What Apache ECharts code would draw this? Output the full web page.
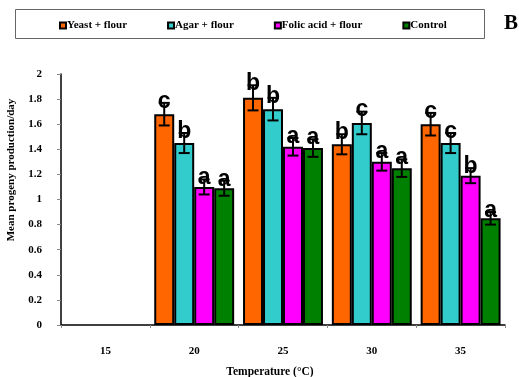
<!DOCTYPE html>
<html>
<head>
<meta charset="utf-8">
<script src="https://cdn.jsdelivr.net/npm/echarts@6/dist/echarts.min.js"></script>
<style>
  html, body { margin: 0; padding: 0; background: #fff; }
  #chart { width: 519px; height: 377px; }
</style>
</head>
<body>
<div id="chart"></div>
<script>
// Temperature groups on the x axis
const temperatures = ['15', '20', '25', '30', '35'];

// Series names
const seriesNames = ['Yeast + flour', 'Agar + flour', 'Folic acid + flour', 'Control'];

// Mean progeny production per day (no data at 15 °C)
const yeastValues   = [null, 1.68, 1.81, 1.44, 1.60];
const agarValues    = [null, 1.45, 1.72, 1.61, 1.45];
const folicValues   = [null, 1.10, 1.42, 1.30, 1.19];
const controlValues = [null, 1.09, 1.41, 1.25, 0.85];

// Standard errors
const yeastErr   = [null, 0.09, 0.10, 0.08, 0.09];
const agarErr    = [null, 0.08, 0.09, 0.09, 0.08];
const folicErr   = [null, 0.06, 0.07, 0.07, 0.06];
const controlErr = [null, 0.06, 0.07, 0.07, 0.05];

// Significance letters
const yeastLetters   = ['', 'c', 'b', 'b', 'c'];
const agarLetters    = ['', 'b', 'b', 'c', 'c'];
const folicLetters   = ['', 'a', 'a', 'a', 'b'];
const controlLetters = ['', 'a', 'a', 'a', 'a'];

// Y axis tick labels
const yTicks = ['0', '0.2', '0.4', '0.6', '0.8', '1', '1.2', '1.4', '1.6', '1.8', '2'];

const colors = ['#FF6600', '#33CCCC', '#FF00FF', '#008000'];
const allValues = [yeastValues, agarValues, folicValues, controlValues];
const allErrors = [yeastErr, agarErr, folicErr, controlErr];
const allLetters = [yeastLetters, agarLetters, folicLetters, controlLetters];

const serif = '"Liberation Serif", "Times New Roman", serif';
const sans = '"Liberation Sans", Arial, sans-serif';
const CATEGORY_GAP = 0.10;
const N = seriesNames.length;

const chart = echarts.init(document.getElementById('chart'), null, { renderer: 'canvas' });

const barSeries = seriesNames.map((name, i) => ({
  name: name,
  type: 'bar',
  data: allValues[i],
  barGap: '0%',
  barCategoryGap: (CATEGORY_GAP * 100) + '%',
  itemStyle: { color: colors[i], borderColor: '#000', borderWidth: 2 },
  emphasis: { disabled: true },
  z: 2
}));

// Error bars and significance letters over each bar
const errorSeries = seriesNames.map((name, i) => {
  const pts = [];
  allValues[i].forEach((v, k) => {
    if (v != null) pts.push([k, v, allErrors[i][k]]);
  });
  return {
    type: 'custom',
    name: name + ' error',
    z: 5,
    dimensions: ['x', 'y', 'err'],
    encode: { x: 0, y: 1 },
    data: pts,
    renderItem: function (params, api) {
      const k = api.value(0);
      const v = api.value(1);
      const e = api.value(2);
      const band = api.size([1, 0])[0];
      const barW = band * (1 - CATEGORY_GAP) / N;
      const c = api.coord([k, v]);
      const x = c[0] + (i - (N - 1) / 2) * barW;
      const hi = api.coord([k, v + e])[1];
      const lo = api.coord([k, v - e])[1];
      const cap = 5.5;
      const st = { stroke: '#000', lineWidth: 2 };
      return {
        type: 'group',
        children: [
          { type: 'line', shape: { x1: x, y1: hi, x2: x, y2: lo }, style: st },
          { type: 'line', shape: { x1: x - cap, y1: hi, x2: x + cap, y2: hi }, style: st },
          { type: 'line', shape: { x1: x - cap, y1: lo, x2: x + cap, y2: lo }, style: st },
          {
            type: 'text',
            style: {
              text: allLetters[i][k],
              x: x,
              y: hi + 10,
              align: 'center',
              verticalAlign: 'bottom',
              font: 'bold 23px ' + sans,
              fill: '#000'
            }
          }
        ]
      };
    }
  };
});

const option = {
  animation: false,
  color: colors,
  grid: { left: 61, right: 14, top: 74, bottom: 52, outerBoundsMode: 'none', containLabel: false },
  legend: {
    data: seriesNames,
    left: 54,
    top: 15,
    itemWidth: 6,
    itemHeight: 6,
    itemGap: 40,
    icon: 'rect',
    textStyle: { fontFamily: serif, fontWeight: 'bold', fontSize: 11, color: '#000', padding: [0, 0, 0, -4] }
  },
  graphic: [
    {
      type: 'rect',
      shape: { x: 15.5, y: 9.5, width: 469, height: 29 },
      style: { fill: 'none', stroke: '#666', lineWidth: 1 },
      z: -1
    },
    {
      type: 'text',
      left: 504,
      top: 13,
      style: { text: 'B', font: 'bold 21px ' + serif, fill: '#000' }
    },
    {
      type: 'text',
      x: 11,
      y: 170,
      rotation: Math.PI / 2,
      style: {
        text: 'Mean progeny production/day',
        font: 'bold 11px ' + serif,
        fill: '#000',
        align: 'center',
        verticalAlign: 'middle'
      }
    },
    {
      type: 'text',
      x: 270,
      y: 372,
      style: {
        text: 'Temperature (°C)',
        font: 'bold 11.5px ' + serif,
        fill: '#000',
        align: 'center',
        verticalAlign: 'middle'
      }
    }
  ],
  xAxis: {
    type: 'category',
    data: temperatures,
    axisLine: { lineStyle: { color: '#000', width: 1.5 } },
    axisTick: { show: true, alignWithLabel: false, length: 3, lineStyle: { color: '#888' } },
    axisLabel: { fontFamily: serif, fontWeight: 'bold', fontSize: 11, color: '#000', margin: 21 }
  },
  yAxis: {
    type: 'value',
    min: 0,
    max: 2,
    interval: 0.2,
    axisLine: { show: true, lineStyle: { color: '#000', width: 1.5 } },
    axisTick: { show: true, length: 4, lineStyle: { color: '#888' } },
    splitLine: { show: false },
    axisLabel: {
      fontFamily: serif, fontWeight: 'bold', fontSize: 11, color: '#000', margin: 19,
      formatter: function (v) {
        const idx = Math.round(v / 0.2);
        return yTicks[idx] !== undefined ? yTicks[idx] : '';
      }
    }
  },
  series: barSeries.concat(errorSeries)
};

chart.setOption(option);
</script>
</body>
</html>
